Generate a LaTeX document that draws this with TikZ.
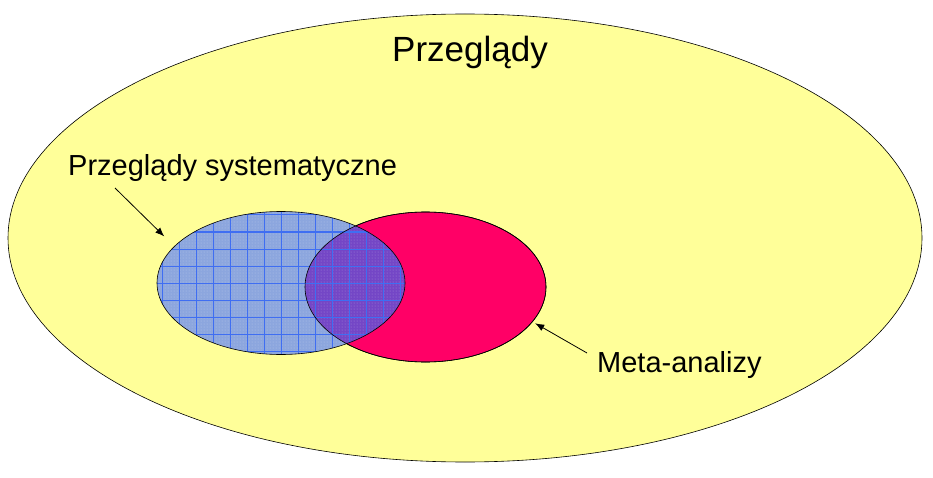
\documentclass[tikz,border=0pt]{standalone}
\usepackage{fontspec}
\setmainfont{Liberation Sans}
\usepackage{tikz}
\usetikzlibrary{arrows.meta,shapes.geometric,patterns}
\usetikzlibrary{positioning}

\definecolor{yellowfill}{HTML}{FFFF99}
\definecolor{redfill}{HTML}{FF0066}
\definecolor{bluefill}{HTML}{8CA6DE}
\definecolor{mixfill}{HTML}{7446C6}
\definecolor{gridblue}{HTML}{3F6EF2}

\tikzset{
    venn/.style={ellipse, draw=black, line width=0.6pt, inner sep=0pt},
    label text/.style={font=\fontsize{29}{34}\selectfont},
    pointer/.style={-{Latex[length=9pt,width=7pt]}, line width=0.8pt}
}

\begin{document}
\begin{tikzpicture}[x=1pt,y=1pt]
    \useasboundingbox (0,0) rectangle (933,477);

    \node[venn, fill=yellowfill, minimum width=914pt, minimum height=448pt] (all) at (465,239) {};

    \node[venn, fill=redfill, minimum width=241pt, minimum height=150pt] (meta) at (425.5,190) {};
    \node[venn, fill=bluefill, minimum width=248pt, minimum height=143pt,
          path picture={
              \fill[mixfill] (meta.center) ellipse (120.5pt and 75pt);
              \fill[pattern=dots, pattern color=white, opacity=0.35] (path picture bounding box.south west) rectangle (path picture bounding box.north east);
              \draw[gridblue, line width=1pt, step=17pt] (path picture bounding box.south west) grid (path picture bounding box.north east);
          }] (sys) at (281,194) {};
    \draw[line width=0.6pt] (meta.center) ellipse (120.5pt and 75pt);

    \node[anchor=base, font=\fontsize{35}{40}\selectfont] (title) at (470,415) {Przeglądy};
    \node[label text, anchor=base west, inner sep=0pt] (systext) at (68,301) {Przeglądy systematyczne};
    \node[label text, anchor=base west, inner sep=0pt] (metatext) at (597,105) {Meta-analizy};

    \coordinate (systail) at (115,289);
    \coordinate (metatail) at (587,124);
    \draw[pointer, shorten >=14pt] (systail) -- (sys.161);
    \draw[pointer, shorten >=3pt] (metatail) -- (meta.-18);
\end{tikzpicture}
\end{document}
